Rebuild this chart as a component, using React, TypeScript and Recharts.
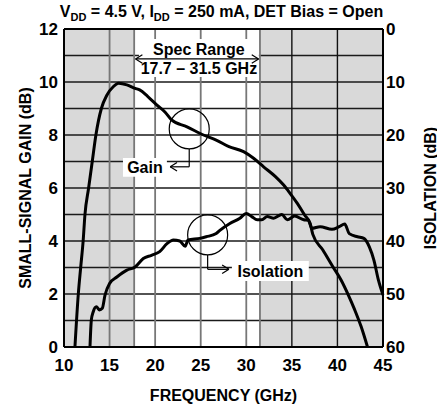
import React from 'react'
import { ComposedChart, Line, XAxis, YAxis, ReferenceArea, ReferenceLine, ReferenceDot, Label } from 'recharts'

// gain (left axis, dB) vs frequency (GHz)
const gainFreq = [11.2, 11.57, 11.83, 12.1, 12.3, 12.7, 13.1, 13.5, 14.1, 14.7, 15.4, 16.0, 16.9, 17.8, 18.3, 19.2, 20.2, 21.1, 21.8, 23.5, 25.3, 26.7, 28.1, 29.7, 30.8, 31.9, 33.2, 34.1, 34.8, 35.6, 36.4, 37.0, 37.3, 38.4, 39.5, 40.4, 41.2, 41.9, 42.6, 43.3]
const gainDb = [0, 2, 3, 4, 5, 6, 7, 8, 9, 9.5, 9.82, 9.95, 9.89, 9.76, 9.7, 9.45, 9.13, 8.86, 8.57, 8.31, 8.0, 7.81, 7.56, 7.37, 7.12, 6.8, 6.43, 6.11, 5.8, 5.42, 4.98, 4.67, 4.25, 3.66, 3.03, 2.53, 1.96, 1.4, 0.77, 0]

// isolation (right axis, dB, reversed)
const isoFreq = [12.85, 13.0, 13.2, 13.55, 13.9, 14.2, 14.5, 15.0, 15.8, 16.9, 17.8, 18.7, 19.6, 20.5, 21.3, 22.0, 22.7, 23.3, 23.6, 24.9, 25.6, 26.7, 27.1, 28.2, 29.3, 30.0, 30.6, 31.2, 31.7, 32.3, 33.0, 33.9, 34.5, 35.3, 36.3, 36.8, 37.2, 38.1, 39.4, 40.2, 40.8, 41.3, 42.2, 42.9, 43.5, 44.0, 44.5, 45.0]
const isoDb = [60, 54.9, 53.4, 52.4, 53.0, 52.7, 50.2, 48.0, 46.8, 45.5, 44.9, 43.3, 42.7, 42.0, 40.5, 39.8, 40.0, 41.0, 39.8, 39.5, 39.2, 38.6, 38.0, 36.7, 35.7, 34.8, 35.4, 36.0, 36.0, 35.4, 35.7, 35.0, 36.0, 35.3, 36.0, 36.1, 37.6, 37.3, 37.8, 37.3, 36.8, 38.6, 39.2, 39.5, 41.1, 43.6, 47.4, 50.2]

const freqTicks = [10, 15, 20, 25, 30, 35, 40, 45]
const gainTicks = [0, 2, 4, 6, 8, 10, 12]
const isoTicks = [0, 10, 20, 30, 40, 50, 60]
const gainGrid = [1, 2, 3, 4, 5, 6, 7, 8, 9, 10, 11]
const freqGridLight = [15, 17.7, 20, 25, 30, 31.5]
const freqGridDark = [35, 40]
const shaded = [[10, 17.7], [31.5, 45]]

const gainData = gainFreq.map((f, i) => ({ f, gain: gainDb[i] }))
const isoData = isoFreq.map((f, i) => ({ f, iso: isoDb[i] }))

const FONT = '"Liberation Sans", Arial, Helvetica, sans-serif'
const txt = { fill: '#000', fontSize: 16, fontWeight: 'bold' as const, fontFamily: FONT }

function VTitle({ viewBox, value, dx }: any) {
  const x = viewBox.x + dx
  const y = viewBox.y + viewBox.height / 2
  return (
    <text x={x} y={y} transform={`rotate(-90 ${x} ${y})`} textAnchor="middle" dominantBaseline="central" {...txt}>
      {value}
    </text>
  )
}

export default function App() {
  return (
    <div style={{ position: 'absolute', left: 0, top: 0, width: 437, height: 409, background: '#fff', fontFamily: FONT }}>
      <div style={{ position: 'absolute', top: 4, left: 3, width: 437, textAlign: 'center', fontSize: 16, fontWeight: 'bold', lineHeight: '16px' }}>
        V<sub style={{ fontSize: 11 }}>DD</sub> = 4.5 V, I<sub style={{ fontSize: 11 }}>DD</sub> = 250 mA, DET Bias = Open
      </div>
      <ComposedChart width={437} height={409} margin={{ top: 29, right: 0, bottom: 0, left: 0 }}>
        <XAxis
          type="number" dataKey="f" domain={[10, 45]} ticks={freqTicks} height={62}
          tick={{ ...txt, fontSize: 17 }} tickLine={false} tickSize={6} tickMargin={6}
          axisLine={{ stroke: '#000', strokeWidth: 2 }}
        >
          <Label value="FREQUENCY (GHz)" position="insideBottom" offset={8} {...txt} />
        </XAxis>
        <YAxis
          yAxisId="gain" domain={[0, 12]} ticks={gainTicks} width={64}
          tick={{ ...txt, fontSize: 17 }} tickLine={false} tickSize={4} tickMargin={2}
          axisLine={{ stroke: '#000', strokeWidth: 2 }}
          label={{ content: (p: any) => <VTitle {...p} value="SMALL-SIGNAL GAIN (dB)" dx={25} /> }}
        />
        <YAxis
          yAxisId="iso" orientation="right" reversed domain={[0, 60]} ticks={isoTicks} width={54}
          tick={{ ...txt, fontSize: 17, textAnchor: 'start' }} tickLine={false} tickSize={1} tickMargin={2}
          axisLine={{ stroke: '#000', strokeWidth: 2 }}
          label={{ content: (p: any) => <VTitle {...p} value="ISOLATION (dB)" dx={47} /> }}
        />

        {shaded.map(([a, b]) => (
          <ReferenceArea key={a} yAxisId="gain" x1={a} x2={b} y1={0} y2={12} fill="#d9d9d9" fillOpacity={1} stroke="none" zIndex={-200} />
        ))}
        {gainGrid.map(v => (
          <ReferenceLine key={'h' + v} yAxisId="gain" y={v} stroke="#1a1a1a" strokeWidth={1.3} zIndex={-150} />
        ))}
        {freqGridLight.map(v => (
          <ReferenceLine key={'v' + v} yAxisId="gain" x={v} stroke="#777" strokeWidth={1.8} zIndex={-150} />
        ))}
        {freqGridDark.map(v => (
          <ReferenceLine key={'d' + v} yAxisId="gain" x={v} stroke="#111" strokeWidth={1.4} zIndex={-150} />
        ))}
        <ReferenceLine yAxisId="gain" y={12} stroke="#000" strokeWidth={2} zIndex={-140} />

        {/* white boxes behind annotation text */}
        <ReferenceArea yAxisId="gain" x1={18.22} x2={31.38} y1={10.19} y2={11.62} fill="#fff" fillOpacity={1} stroke="none" zIndex={-100} />
        <ReferenceArea yAxisId="gain" x1={16.47} x2={21.29} y1={6.42} y2={7.13} fill="#fff" fillOpacity={1} stroke="none" zIndex={-100} />
        <ReferenceArea yAxisId="gain" x1={28.42} x2={36.86} y1={2.49} y2={3.25} fill="#fff" fillOpacity={1} stroke="none" zIndex={-100} />

        <Line data={gainData} yAxisId="gain" dataKey="gain" type="monotone" stroke="#000" strokeWidth={3} dot={false} isAnimationActive={false} />
        <Line data={isoData} yAxisId="iso" dataKey="iso" type="monotone" stroke="#000" strokeWidth={3} dot={false} isAnimationActive={false} />

        {/* spec range dimension line */}
        <ReferenceLine yAxisId="gain" segment={[{ x: 17.85, y: 10.87 }, { x: 31.35, y: 10.87 }]} stroke="#000" strokeWidth={1.2} />
        <ReferenceLine yAxisId="gain" segment={[{ x: 17.85, y: 10.87 }, { x: 18.6, y: 11.03 }]} stroke="#000" strokeWidth={1.2} />
        <ReferenceLine yAxisId="gain" segment={[{ x: 17.85, y: 10.87 }, { x: 18.6, y: 10.71 }]} stroke="#000" strokeWidth={1.2} />
        <ReferenceLine yAxisId="gain" segment={[{ x: 31.35, y: 10.87 }, { x: 30.6, y: 11.03 }]} stroke="#000" strokeWidth={1.2} />
        <ReferenceLine yAxisId="gain" segment={[{ x: 31.35, y: 10.87 }, { x: 30.6, y: 10.71 }]} stroke="#000" strokeWidth={1.2} />
        <ReferenceArea yAxisId="gain" x1={18.22} x2={31.38} y1={11.0} y2={11.5} fill="none" stroke="none"
          label={{ value: 'Spec Range', position: 'center', ...txt }} />
        <ReferenceArea yAxisId="gain" x1={18.22} x2={31.38} y1={10.25} y2={10.75} fill="none" stroke="none"
          label={{ value: '17.7 – 31.5 GHz', position: 'center', ...txt }} />

        {/* gain callout */}
        <ReferenceDot yAxisId="gain" x={23.74} y={8.23} r={20} fill="none" stroke="#000" strokeWidth={1.2} />
        <ReferenceLine yAxisId="gain" segment={[{ x: 23.74, y: 7.47 }, { x: 23.74, y: 6.8 }]} stroke="#000" strokeWidth={1.2} />
        <ReferenceLine yAxisId="gain" segment={[{ x: 23.74, y: 6.8 }, { x: 21.65, y: 6.8 }]} stroke="#000" strokeWidth={1.2} />
        <ReferenceLine yAxisId="gain" segment={[{ x: 21.65, y: 6.8 }, { x: 22.4, y: 6.96 }]} stroke="#000" strokeWidth={1.2} />
        <ReferenceLine yAxisId="gain" segment={[{ x: 21.65, y: 6.8 }, { x: 22.4, y: 6.64 }]} stroke="#000" strokeWidth={1.2} />
        <ReferenceArea yAxisId="gain" x1={16.47} x2={21.29} y1={6.42} y2={7.13} fill="none" stroke="none"
          label={{ value: 'Gain', position: 'center', ...txt }} />

        {/* isolation callout */}
        <ReferenceDot yAxisId="gain" x={25.76} y={4.23} r={20} fill="none" stroke="#000" strokeWidth={1.2} />
        <ReferenceLine yAxisId="gain" segment={[{ x: 25.76, y: 3.47 }, { x: 25.76, y: 2.93 }]} stroke="#000" strokeWidth={1.2} />
        <ReferenceLine yAxisId="gain" segment={[{ x: 25.76, y: 2.93 }, { x: 28.1, y: 2.93 }]} stroke="#000" strokeWidth={1.2} />
        <ReferenceLine yAxisId="gain" segment={[{ x: 28.1, y: 2.93 }, { x: 27.35, y: 3.09 }]} stroke="#000" strokeWidth={1.2} />
        <ReferenceLine yAxisId="gain" segment={[{ x: 28.1, y: 2.93 }, { x: 27.35, y: 2.77 }]} stroke="#000" strokeWidth={1.2} />
        <ReferenceArea yAxisId="gain" x1={28.42} x2={36.86} y1={2.49} y2={3.25} fill="none" stroke="none"
          label={{ value: 'Isolation', position: 'center', ...txt }} />
      </ComposedChart>
    </div>
  )
}
